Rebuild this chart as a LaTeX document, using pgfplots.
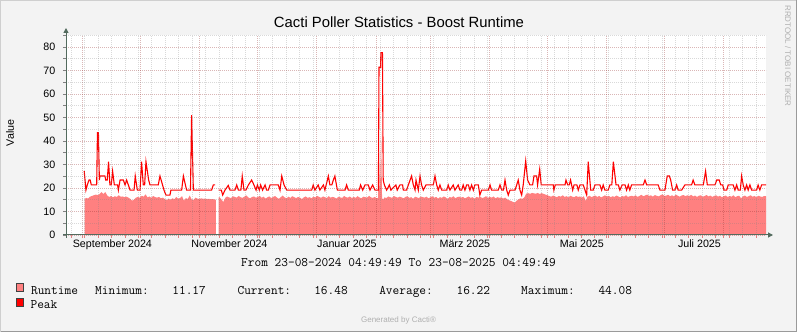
\documentclass[border=0pt]{standalone}
\usepackage{fontspec}
\setmainfont{Liberation Sans}
\usepackage{pgfplots}
\pgfplotsset{compat=1.18}
\usetikzlibrary{arrows.meta}
\definecolor{canvasbg}{HTML}{F3F3F3}
\definecolor{shadea}{HTML}{CFCFCF}
\definecolor{shadeb}{HTML}{9A9A9A}
\definecolor{axiscol}{HTML}{536B5E}
\definecolor{mgridc}{HTML}{963030}
\definecolor{gridc}{HTML}{828282}
\definecolor{mtick}{HTML}{E08080}
\definecolor{areacol}{HTML}{FF8080}
\definecolor{peakcol}{HTML}{FF0000}
\definecolor{swb}{HTML}{404040}
\definecolor{faint}{HTML}{B0B0B0}
\newcommand\lgat[2]{\makebox[0pt][l]{\hspace*{#1}#2}}
\begin{document}
\begin{tikzpicture}[x=1pt,y=1pt]
\useasboundingbox (0,0) rectangle (797,332);
\fill[canvasbg] (0,0) rectangle (797,332);
\draw[shadea, line width=1pt] (0.5,0.5) -- (0.5,331.5) -- (796.5,331.5);
\draw[shadeb, line width=1pt] (0.5,0.5) -- (796.5,0.5) -- (796.5,331.5);
\begin{axis}[
  at={(66pt,97pt)}, anchor=south west,
  scale only axis, width=700pt, height=199.75pt,
  xmin=0, xmax=365, ymin=0, ymax=85,
  axis background/.style={fill=white},
  axis line style={draw=none},
  axis on top,
  tick align=outside, xtick pos=bottom, ytick pos=left,
  xtick={8.8,38.8,69.8,99.8,130.8,161.8,189.8,220.8,250.8,281.8,311.8,342.8},
  xticklabels={},
  minor xtick={2.8,9.8,...,364},
  ytick={0,10,...,80}, minor ytick={5,15,...,85},
  grid=both,
  major grid style={draw=mgridc, draw opacity=0.35, dash pattern=on 1pt off 1pt, line width=0.9pt},
  minor grid style={draw=gridc, draw opacity=0.3, dash pattern=on 1pt off 1pt, line width=0.9pt},
  major tick length=3pt,
  xtick style={draw=mtick, line width=0.9pt},
  ytick style={draw=gray, line width=0.9pt},
  minor tick style={draw=none},
  extra x ticks={24.2,85.2,146.5,208.0,269.0,330.3},
  extra x tick labels={September 2024,November 2024,Januar 2025,März 2025,Mai 2025,Juli 2025},
  extra x tick style={grid=none, major tick length=0pt, xticklabel style={anchor=base, yshift=-12pt}},
  ticklabel style={font=\fontsize{10.7}{12}\selectfont},
  yticklabel style={anchor=east, inner sep=0pt, xshift=-7.5pt},
  /pgf/number format/assume math mode=true,
  unbounded coords=jump,
  legend style={at={(-0.0717,-0.2403)}, anchor=north west, draw=none, fill=none,
    inner sep=0pt, outer sep=0pt, row sep=2pt,
    font=\fontsize{13}{13}\ttfamily,
    nodes={inner sep=0pt},
    /tikz/every odd column/.append style={column sep=6.5pt}},
  legend cell align=left,
]
% Runtime area, first segment
\addplot[fill=areacol, draw=none,
  legend image code/.code={\filldraw[fill=areacol, draw=swb, line width=0.8pt] (0pt,-1pt) rectangle (7.5pt,7.5pt);}]
coordinates {
(9.7,0) (9.7,15.2) (10.5,15.8) (11.5,15.5) (12.5,16.3) (13.5,16.6) (14.5,16.9) (15.5,17.2) (16.5,17.0) (17.5,17.4) (18.5,18.2) (19.5,17.5) (20.5,18.3) (21.5,16.8) (22.5,16.2) (23.5,16.6) (24.5,16.0) (25.5,16.5) (26.5,16.2) (27.5,16.9) (28.5,16.3) (29.5,16.4) (30.5,16.1) (31.5,16.3) (32.5,15.9) (33.5,15.4) (34.5,14.6) (35.5,15.1) (36.5,15.9) (37.5,16.2) (38.5,15.8) (39.5,16.7) (40.5,16.3) (41.5,17.3) (42.5,16.0) (43.5,16.4) (44.5,15.8) (45.5,16.6) (46.5,16.1) (47.5,15.9) (48.5,16.2) (49.5,15.6) (50.5,15.9) (51.5,15.3) (52.5,14.8) (53.5,15.5) (54.5,15.0) (55.5,15.6) (56.5,15.2) (57.5,16.2) (58.5,15.4) (59.5,15.8) (60.5,16.5) (61.5,14.6) (62.5,15.7) (63.5,15.3) (64.5,16.8) (65.5,15.2) (66.5,14.9) (67.5,15.9) (68.5,15.5) (69.5,15.3) (70.5,15.6) (71.5,15.4) (72.5,15.5) (73.5,15.3) (74.5,15.4) (75.5,15.2) (76.5,15.3) (77.5,15.1) (78.2,15.0) (78.2,0)
} \closedcycle;
\addlegendentry{\lgat{0pt}{Runtime}\lgat{64.1pt}{Minimum:}\lgat{141.3pt}{11.17}\lgat{206.5pt}{Current:}\lgat{283.2pt}{16.48}\lgat{348.2pt}{Average:}\lgat{425.5pt}{16.22}\lgat{490.1pt}{Maximum:}\lgat{567.4pt}{44.08}}
% Runtime area, second segment
\addplot[fill=areacol, draw=none, forget plot]
coordinates {
(79.6,0) (79.6,16.0) (80,16.1) (81,15.2) (82,14.0) (83,15.8) (84,16.4) (85,16.0) (86,15.7) (87,16.5) (88,16.2) (89,15.9)
(90,16.6) (91,16.1) (92,15.8) (93,16.3) (94,16.9) (95,16.0) (96,15.6) (97,16.2) (98,16.4) (99,15.9)
(100,16.1) (101,16.7) (102,15.8) (103,16.3) (104,15.5) (105,16.0) (106,16.4) (107,15.7) (108,16.2) (109,16.6)
(110,15.9) (111,15.4) (112,16.1) (113,16.8) (114,16.0) (115,15.6) (116,16.3) (117,15.8) (118,16.5) (119,16.1)
(120,15.7) (121,16.2) (122,15.9) (123,15.3) (124,16.0) (125,16.4) (126,15.8) (127,16.1) (128,15.6) (129,16.3)
(130,16.0) (131,16.6) (132,16.2) (133,15.8) (134,16.4) (135,16.1) (136,15.7) (137,16.5) (138,15.9) (139,16.2)
(140,16.0) (141,15.5) (142,16.3) (143,16.0) (144,15.8) (145,16.6) (146,16.1) (147,15.9) (148,16.4) (149,15.7)
(150,16.2) (151,15.8) (152,16.5) (153,16.0) (154,15.6) (155,16.3) (156,16.1) (157,15.9) (158,16.7) (159,16.0)
(160,15.8) (161,16.2) (162,15.6) (162.7,15.8) (163.2,35.5) (163.7,17.0) (164.3,44.08) (164.8,15.5) (165.5,15.2)
(166,16.0) (167,15.7) (168,16.4) (169,16.1) (170,15.8) (171,16.6) (172,16.2) (173,15.9) (174,16.3) (175,16.0)
(176,15.6) (177,16.2) (178,16.5) (179,15.8) (180,16.1) (181,15.4) (182,16.3) (183,16.0) (184,15.7) (185,16.4)
(186,16.1) (187,15.9) (188,16.3) (189,15.6) (190,16.0) (191,16.5) (192,15.8) (193,16.2) (194,15.5) (195,16.1)
(196,15.8) (197,16.4) (198,16.0) (199,15.3) (200,16.2) (201,15.9) (202,16.5) (203,15.7) (204,16.1) (205,16.3)
(206,15.9) (207,16.2) (208,15.6) (209,16.0) (210,16.4) (211,15.8) (212,16.1) (213,15.4) (214,16.2) (215,15.9)
(216,16.3) (217,15.7) (218,16.0) (219,16.5) (220,15.8) (221,16.2) (222,15.9) (223,16.4) (224,15.6) (225,16.1)
(226,15.8) (227,16.0) (228,15.5) (229,15.9) (230,15.2) (231,14.8) (232,14.5) (233,14.1) (234,13.8) (235,14.6)
(236,15.2) (237,15.6) (238,15.4) (239,16.0) (240,17.6) (241,17.8) (242,17.5) (243,17.9) (244,17.7) (245,17.6)
(246,17.9) (247,17.4) (248,17.8) (249,17.5) (250,17.2) (251,16.9) (252,16.6) (253,16.3) (254,16.8) (255,16.4)
(256,16.1) (257,16.6) (258,16.3) (259,16.9) (260,16.2) (261,16.5) (262,16.0) (263,16.7) (264,16.3) (265,16.1)
(266,16.6) (267,16.2) (268,16.4) (269,15.9) (270,16.5) (271,14.5) (272,16.3) (273,16.7) (274,16.1) (275,16.5)
(276,16.8) (277,16.2) (278,16.6) (279,16.0) (280,16.4) (281,16.9) (282,16.3) (283,16.7) (284,16.1) (285,16.5)
(286,16.2) (287,16.8) (288,16.4) (289,16.0) (290,16.6) (291,16.3) (292,16.9) (293,16.2) (294,16.5) (295,16.7)
(296,16.4) (297,16.9) (298,16.2) (299,16.6) (300,17.1) (301,16.5) (302,16.8) (303,17.2) (304,16.6) (305,16.9)
(306,16.3) (307,17.0) (308,16.7) (309,16.4) (310,16.9) (311,17.3) (312,16.6) (313,16.8) (314,17.1) (315,16.5)
(316,16.9) (317,16.4) (318,17.2) (319,16.7) (320,16.3) (321,16.8) (322,17.0) (323,16.5) (324,16.9) (325,16.6)
(326,17.1) (327,16.4) (328,16.8) (329,16.2) (330,16.7) (331,16.9) (332,16.3) (333,16.6) (334,17.0) (335,16.4)
(336,16.8) (337,16.2) (338,16.6) (339,16.9) (340,16.3) (341,16.7) (342,16.1) (343,16.5) (344,16.8) (345,16.2)
(346,16.6) (347,16.3) (348,16.9) (349,16.1) (350,16.5) (351,16.7) (352,15.6) (353,16.4) (354,16.8) (355,16.2)
(356,16.5) (357,16.9) (358,16.3) (359,16.6) (360,16.1) (361,16.7) (362,16.4) (363,16.2) (364,16.6) (365,16.48) (365,0)
} \closedcycle;
% Peak line
\addplot[peakcol, line width=1.1pt, sharp plot,
  legend image code/.code={\filldraw[fill=peakcol, draw=swb, line width=0.8pt] (0pt,-1pt) rectangle (7.5pt,7.5pt);}]
coordinates {
(9.5,27.2) (10.4,19.1) (11.1,21.3) (12.0,23.4) (12.6,23.4) (13.2,21.3) (16.0,21.3) (16.4,43.5) (16.9,43.5) (17.4,23.4) (17.7,25.1) (20.3,25.1) (20.7,23.4) (21.5,23.4) (22.2,31.2) (22.9,21.3) (23.6,21.3) (24.3,27.2) (25.2,21.3) (26.9,21.3) (27.3,19.1) (28.2,23.4) (29.9,23.4) (30.8,21.3) (31.6,23.4) (32.5,21.3) (33.4,19.1) (35.5,19.1) (36.1,25.1) (37.2,19.1) (38.6,19.1) (39.4,31.2) (40.3,21.3) (41.0,21.3) (41.7,31.2) (43.1,23.4) (43.8,21.3) (48.1,21.3) (49.0,25.1) (51.1,19.1) (52.1,17) (54.2,17) (54.7,19.1) (60.3,19.1) (61.2,25.1) (62.9,19.1) (64.9,19.1) (65.5,51) (66.4,19.1) (75.9,19.1) (76.8,21.3) (77.7,21.3)
(78.5,nan)
(79.6,19.1) (81.0,19.1) (81.7,17) (82.9,19.1) (84.6,21.1) (85.5,19.1) (88.1,19.1) (89.0,21.3) (89.9,19.1) (91.2,19.1) (91.9,25.1) (92.8,19.1) (93.8,19.1) (95.1,21.3) (96.8,23.4) (98.0,21.3) (99.1,19.1) (99.8,21.3) (100.8,19.1) (101.5,21.3) (102.5,19.1) (103.8,21.3) (104.6,19.1) (105.5,19.1) (106.4,21.3) (110.7,21.3) (111.6,19.1) (112.5,25.1) (113.7,21.3) (115.1,19.1) (128.1,19.1) (128.9,21.3) (129.8,19.1) (131.5,21.3) (132.4,19.1) (134.2,21.3) (135.0,19.1) (136.8,25.1) (137.6,21.3) (138.6,21.3) (139.4,23.4) (140.2,25.1) (141.5,19.1) (145.5,19.1) (146.3,21.3) (147.2,19.1) (152.9,19.1) (153.6,21.3) (154.7,19.1) (155.9,21.3) (157.6,21.3) (158.5,19.1) (159.9,21.3) (161.1,19.1) (162.9,19.1) (163.2,71.4) (164.0,71.4) (164.2,77.6) (165.0,77.6) (165.4,23.4) (166.0,21.3) (167.2,19.1) (168.6,21.3) (169.4,19.1) (172.0,21.3) (172.7,19.1) (174.1,21.3) (175.5,21.3) (175.9,19.1) (177.6,19.1) (178.5,21.3) (180.2,25.1) (181.1,21.3) (182.0,19.1) (182.5,23.4) (183.7,19.1) (184.6,25.1) (185.4,21.3) (186.3,19.1) (187.7,21.3) (191.5,21.3) (192.4,25.1) (193.3,21.3) (194.1,19.1) (195.0,21.3) (195.9,19.1) (198.5,19.1) (199.3,21.3) (200.2,19.1) (201.9,21.3) (202.8,19.1) (204.5,21.3) (205.4,19.1) (206.3,19.1) (207.1,21.3) (208.0,19.1) (208.9,21.3) (209.8,21.3) (210.6,19.1) (211.5,21.3) (212.4,19.1) (213.2,21.3) (215.0,21.3) (215.8,17) (216.7,19.1) (220.2,19.1) (221.1,21.3) (221.9,19.1) (225.4,19.1) (226.3,21.3) (227.2,19.1) (228.1,19.1) (228.9,23.4) (229.8,19.1) (230.6,17) (231.5,19.1) (234.1,19.1) (235.0,21.3) (235.8,23.4) (236.7,19.1) (237.6,17) (238.4,21.3) (239.7,31.5) (240.7,23.4) (241.9,21.3) (243.3,21.3) (244.0,25.1) (245.4,25.1) (245.9,21.3) (247.0,28) (247.8,21.3) (254.1,21.3) (254.4,19.1) (255.1,21.3) (260.2,21.3) (260.7,23.4) (261.6,21.3) (262.4,21.3) (263.1,23.4) (264.2,19.1) (264.9,21.3) (266.4,21.3) (267.1,19.1) (268.0,21.3) (269.7,21.3) (270.6,19.1) (271.5,17) (272.3,31.2) (273.6,19.1) (274.9,19.1) (275.8,21.3) (278.4,21.3) (279.3,19.1) (280.1,21.3) (281.0,19.1) (282.7,19.1) (283.6,21.3) (284.6,21.3) (285.4,31.2) (286.8,21.3) (288.0,21.3) (288.8,19.1) (290.0,21.3) (291.5,21.3) (292.3,19.1) (293.2,21.3) (294.0,19.1) (294.9,21.3) (301.0,21.3) (301.9,23.4) (302.8,21.3) (308.8,21.3) (309.7,19.1) (312.3,19.1) (313.5,25.1) (314.6,25.1) (315.3,23.4) (316.3,19.1) (317.5,19.1) (318.4,21.3) (319.2,19.1) (321.0,19.1) (322.7,21.3) (326.2,21.3) (327.0,23.4) (327.9,21.3) (332.3,21.3) (333.5,27.2) (334.4,21.3) (338.4,21.3) (339.3,23.4) (340.6,23.4) (341.4,21.3) (342.4,21.3) (343.1,19.1) (344.5,19.1) (345.3,21.3) (347.9,21.3) (348.8,19.1) (349.7,21.3) (350.5,19.1) (351.6,19.1) (352.3,25.1) (353.1,21.3) (354.0,19.1) (354.9,21.3) (355.7,19.1) (356.6,21.3) (357.5,19.1) (360.1,19.1) (360.9,21.3) (361.8,19.1) (362.7,21.3) (365,21.3)
};
\addlegendentry{Peak}
\end{axis}
% axis lines with arrows
\draw[axiscol, line width=1pt, -{Triangle[length=5pt,width=5pt]}] (66,94) -- (66,304);
\draw[axiscol, line width=1pt, -{Triangle[length=5pt,width=5pt]}] (63,97) -- (773,97);
% texts
\node[anchor=base] at (399,304) {\fontsize{14.85}{16}\selectfont Cacti Poller Statistics - Boost Runtime};
\node[rotate=90, anchor=center, font=\fontsize{10.7}{12}\selectfont] at (10,199) {Value};
\node[anchor=base, font=\fontsize{13}{13}\ttfamily] at (398.5,65.5) {From 23-08-2024 04:49:49 To 23-08-2025 04:49:49};
\node[rotate=-90, font=\fontsize{8}{8}\selectfont, text=faint] at (788,276) {RRDTOOL / TOBI OETIKER};
\node[anchor=base, font=\fontsize{8}{8}\selectfont, text=faint] at (398.5,9.5) {Generated by Cacti®};
\end{tikzpicture}
\end{document}
